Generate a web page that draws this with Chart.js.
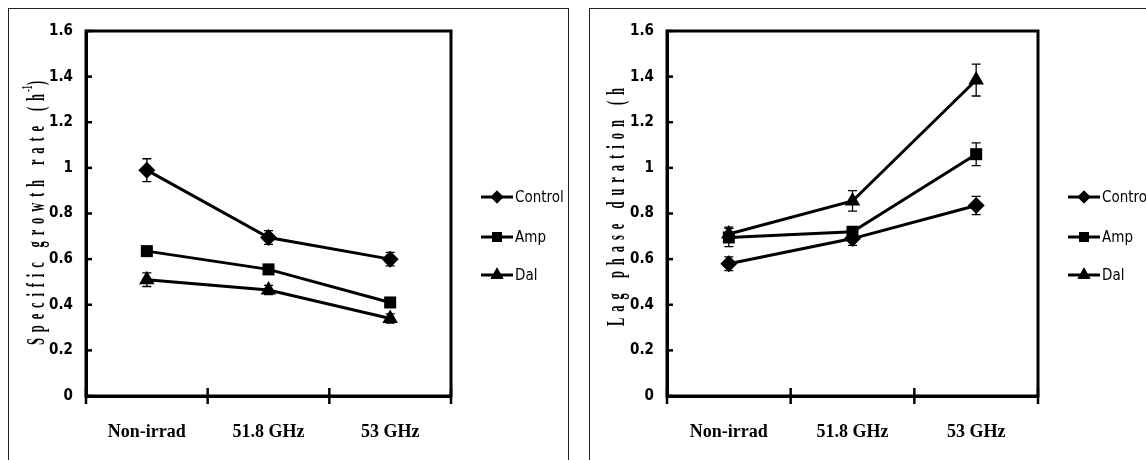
<!DOCTYPE html>
<html><head><meta charset="utf-8">
<script src="https://cdn.jsdelivr.net/npm/chart.js@4.4.1/dist/chart.umd.min.js"></script>
<style>
html,body{margin:0;padding:0;background:#fff;overflow:hidden;width:1146px;height:460px;}
.panel{position:absolute;top:8px;border:1px solid #222;background:#fff;}
#p1{left:8px;width:559px;height:470px;}
#p2{left:589px;width:578px;height:470px;}
canvas{display:block;}
</style></head><body>
<div class="panel" id="p1"><canvas id="c1" width="559" height="452"></canvas></div>
<div class="panel" id="p2"><canvas id="c2" width="578" height="452"></canvas></div>
<script>
// ---- data ----
const categories = ['Non-irrad', '51.8 GHz', '53 GHz'];
const seriesNames = ['Control', 'Amp', 'Dal'];
const yTickValues = [0, 0.2, 0.4, 0.6, 0.8, 1, 1.2, 1.4, 1.6];
const yTickLabels = ['0', '0.2', '0.4', '0.6', '0.8', '1', '1.2', '1.4', '1.6'];

// Specific growth rate (h-1)
const growthControl = [0.99, 0.695, 0.60];
const growthControlErr = [0.05, 0.03, 0.03];
const growthAmp = [0.635, 0.555, 0.41];
const growthAmpErr = [0.02, 0.02, 0.02];
const growthDal = [0.51, 0.465, 0.34];
const growthDalErr = [0.03, 0.02, 0.02];

// Lag phase duration (h)
const lagControl = [0.58, 0.69, 0.835];
const lagControlErr = [0.03, 0.03, 0.04];
const lagAmp = [0.695, 0.72, 1.06];
const lagAmpErr = [0.04, 0.02, 0.05];
const lagDal = [0.71, 0.855, 1.385];
const lagDalErr = [0.03, 0.045, 0.07];

// ---- styling ----
const pointStyles = ['rectRot', 'rect', 'triangle'];
const pointRadii = [8.5, 8.5, 9];
const legendRadii = [6.5, 7, 7.5];

const framePlugin = {
  id: 'frame',
  beforeDatasetsDraw(chart) {
    const ctx = chart.ctx, xs = chart.scales.x, ys = chart.scales.y;
    ctx.save();
    ctx.strokeStyle = '#000';
    ctx.lineWidth = 1.3;
    chart.data.datasets.forEach(ds => {
      const err = ds.errors;
      ds.data.forEach((v, i) => {
        const x = xs.getPixelForValue(i);
        const y1 = ys.getPixelForValue(v + err[i]);
        const y2 = ys.getPixelForValue(v - err[i]);
        ctx.beginPath();
        ctx.moveTo(x, y1); ctx.lineTo(x, y2);
        ctx.moveTo(x - 4.5, y1); ctx.lineTo(x + 4.5, y1);
        ctx.moveTo(x - 4.5, y2); ctx.lineTo(x + 4.5, y2);
        ctx.stroke();
      });
    });
    ctx.restore();
  },
  afterDraw(chart) {
    const ctx = chart.ctx, a = chart.chartArea, xs = chart.scales.x, ys = chart.scales.y;
    ctx.save();
    ctx.strokeStyle = '#000';
    ctx.lineWidth = 3;
    ctx.strokeRect(a.left, a.top, a.right - a.left, a.bottom - a.top);
    // inward y ticks
    ctx.lineWidth = 2.5;
    yTickValues.forEach(v => {
      const y = ys.getPixelForValue(v);
      ctx.beginPath(); ctx.moveTo(a.left, y); ctx.lineTo(a.left + 6, y); ctx.stroke();
    });
    // category boundary ticks crossing the x axis
    for (let i = 0; i <= categories.length; i++) {
      const x = xs.getPixelForValue(i - 0.5);
      ctx.beginPath(); ctx.moveTo(x, a.bottom - 8); ctx.lineTo(x, a.bottom + 8); ctx.stroke();
    }
    // legend
    const lg = chart.options.plugins.customLegend;
    chart.data.datasets.forEach((ds, i) => {
      const y = a.top + lg.rows[i];
      const x0 = a.right + lg.lineStart, x1 = a.right + lg.lineEnd;
      ctx.strokeStyle = '#000'; ctx.lineWidth = 3;
      ctx.beginPath(); ctx.moveTo(x0, y); ctx.lineTo(x1, y); ctx.stroke();
      ctx.fillStyle = '#000';
      Chart.helpers.drawPoint(ctx, {pointStyle: ds.pointStyle, radius: legendRadii[i], rotation: 0, borderWidth: 0}, (x0 + x1) / 2, y);
      ctx.fill();
      ctx.font = '15px "DejaVu Sans Condensed", "DejaVu Sans", sans-serif';
      ctx.textBaseline = 'middle'; ctx.textAlign = 'left';
      ctx.fillText(ds.label, x1 + 2, y + 1);
    });
    // rotated axis title
    const t = chart.options.plugins.axisTitle;
    ctx.translate(t.x, t.y);
    ctx.rotate(-Math.PI / 2);
    ctx.scale(t.squeeze, 1);
    ctx.fillStyle = '#000';
    ctx.textBaseline = 'middle'; ctx.textAlign = 'left';
    const mainFont = 'bold ' + t.size + 'px "Liberation Serif", "Times New Roman", serif';
    const supFont = 'bold ' + Math.round(t.size * 0.6) + 'px "Liberation Serif", "Times New Roman", serif';
    const chars = Array.from(t.main);
    ctx.font = mainFont;
    let natural = 0;
    chars.forEach(c => natural += ctx.measureText(c).width);
    let extra = 0;
    if (t.sup) { ctx.font = supFont; extra += ctx.measureText(t.sup).width; ctx.font = mainFont; extra += ctx.measureText(t.close).width; }
    const target = t.length / t.squeeze;
    const gap = Math.max(0, (target - natural - extra) / (chars.length + (t.sup ? 1 : 0)));
    let cx = 0;
    chars.forEach(c => { ctx.fillText(c, cx, 0); cx += ctx.measureText(c).width + gap; });
    if (t.sup) {
      ctx.font = supFont;
      ctx.fillText(t.sup, cx - gap * 0.6, -t.size * 0.38);
      cx += ctx.measureText(t.sup).width - gap * 0.6 + 1;
      ctx.font = mainFont;
      ctx.fillText(t.close, cx, 0);
    }
    ctx.restore();
  }
};

function buildChart(id, vals, errs, rightPad, title) {
  const datasets = seriesNames.map((name, i) => ({
    label: name,
    data: vals[i],
    errors: errs[i],
    borderColor: '#000',
    backgroundColor: '#000',
    borderWidth: 3,
    pointStyle: pointStyles[i],
    pointRadius: pointRadii[i],
    pointBackgroundColor: '#000',
    pointBorderColor: '#000',
    pointBorderWidth: 0,
    tension: 0,
    clip: false
  }));
  return new Chart(document.getElementById(id), {
    type: 'line',
    data: {labels: categories, datasets},
    plugins: [framePlugin],
    options: {
      responsive: false,
      animation: false,
      devicePixelRatio: 1,
      layout: {padding: {top: 20, right: rightPad, left: 0, bottom: 0}},
      plugins: {
        legend: {display: false},
        tooltip: {enabled: false},
        customLegend: {rows: [166, 206, 244], lineStart: 30, lineEnd: 62},
        axisTitle: title
      },
      scales: {
        x: {
          type: 'category',
          offset: true,
          grid: {display: false, drawTicks: false},
          border: {display: true, color: '#000', width: 3},
          ticks: {
            color: '#000', padding: 26, maxRotation: 0, autoSkip: false,
            font: {family: '"Liberation Serif", "Times New Roman", serif', weight: 'bold', size: 18}
          },
          afterFit(s) { s.height = 65; }
        },
        y: {
          min: 0, max: 1.6,
          afterBuildTicks(s) { s.ticks = yTickValues.map(v => ({value: v})); },
          grid: {display: false, drawTicks: false},
          border: {display: true, color: '#000', width: 3},
          ticks: {
            color: '#000', padding: 13,
            font: {family: '"DejaVu Sans Condensed", "DejaVu Sans", sans-serif', weight: 'bold', size: 15},
            callback(v, idx) { return yTickLabels[idx]; }
          },
          afterFit(s) { s.width = 77; }
        }
      }
    }
  });
}

buildChart('c1', [growthControl, growthAmp, growthDal], [growthControlErr, growthAmpErr, growthDalErr], 117,
  {main: 'Specific growth rate (h', sup: '-1', close: ')', x: 29, y: 336, length: 273, size: 25, squeeze: 0.5});
buildChart('c2', [lagControl, lagAmp, lagDal], [lagControlErr, lagAmpErr, lagDalErr], 130,
  {main: 'Lag phase duration (h', sup: '', close: '', x: 28, y: 317, length: 244, size: 25, squeeze: 0.5});
</script>
</body></html>
